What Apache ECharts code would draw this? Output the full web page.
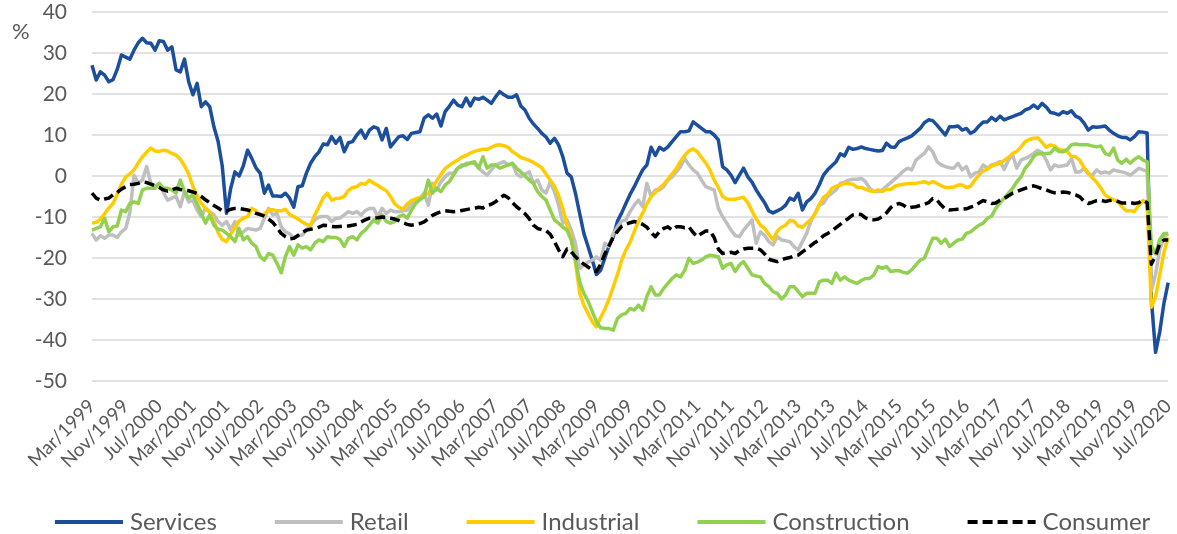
<!DOCTYPE html>
<html>
<head>
<meta charset="utf-8">
<script src="https://cdn.jsdelivr.net/npm/echarts@6/dist/echarts.min.js"></script>
<style>
  html, body { margin: 0; padding: 0; background: #fff; }
  #chart { width: 1177px; height: 534px; }
</style>
</head>
<body>
<div id="chart"></div>
<script>
// monthly categories, Mar/1999 .. Jul/2020
const monthNames = ['Jan','Feb','Mar','Apr','May','Jun','Jul','Aug','Sep','Oct','Nov','Dec']
const startYear = 1999
const startMonth = 2   // March
const monthCount = 257

const categories = []
for (let i = 0; i < monthCount; i++) {
  const m = (startMonth + i) % 12
  const y = startYear + Math.floor((startMonth + i) / 12)
  categories.push(monthNames[m] + '/' + y)
}

const seriesNames = ['Services', 'Retail', 'Industrial', 'Construction', 'Consumer']

const services = [
  27, 23.4, 25.4, 24.6, 23, 23.5, 26, 29.5, 29, 28.5,
  30.7, 32.5, 33.6, 32.5, 32.4, 30.7, 33, 32.8, 30.7, 31.5,
  25.9, 25.4, 28.5, 23, 19.8, 22.6, 16.9, 18.1, 16.9, 12,
  8.4, 2.3, -9.1, -3, 1, 0, 2.5, 6.3, 4.3, 2,
  0.7, -4.2, -2.2, -4.9, -4.9, -5, -4.2, -5.4, -7.6, -2.6,
  -2.4, 0.7, 3.1, 4.7, 5.9, 7.8, 7.6, 9.6, 8, 9.4,
  5.9, 8.1, 8.4, 10, 11.2, 9.2, 11.2, 12, 11.6, 8.8,
  11.6, 7.1, 8.4, 9.6, 9.8, 8.9, 10.4, 10.6, 10.8, 14.1,
  14.9, 14.1, 15.1, 12.2, 15.7, 17, 18.5, 17.3, 16.9, 19,
  17.1, 19, 18.7, 19.2, 18.5, 17.7, 19.3, 20.6, 19.8, 19.2,
  19.2, 19.8, 17.1, 16.1, 14.1, 12.7, 11.6, 10.4, 9.5, 8,
  9.2, 7.6, 4.7, 0.7, -0.2, -4.2, -9.1, -14, -17.2, -20.5,
  -24, -23, -20, -17, -14.8, -11, -9, -6.7, -4.5, -2.6,
  -0.5, 1.5, 2.7, 7, 5, 7, 6.3, 7.1, 8.4, 9.6,
  10.8, 10.8, 11, 13.2, 12.4, 11.6, 10.8, 10.8, 10, 8.8,
  2.3, 1.5, 0.2, -1.6, 0.2, 1.9, -0.2, -1.5, -3.4, -5,
  -6.5, -8.5, -9, -8.5, -8, -7.1, -5.4, -5.9, -4.2, -8.3,
  -6.3, -5.5, -4.2, -2.2, 0.2, 1.5, 2.5, 3.5, 5.4, 4.9,
  7, 6.5, 6.7, 7.1, 6.7, 6.5, 6.3, 6.1, 6.2, 8,
  7.1, 7, 8.4, 8.9, 9.3, 9.8, 10.7, 11.6, 13, 13.7,
  13.5, 12.4, 11.2, 10, 12, 12, 12.2, 11.2, 11.6, 10.4,
  11, 12.2, 13.2, 13.2, 14.3, 13.5, 14.6, 13.7, 14.1, 14.5,
  14.9, 15.3, 16.1, 16.5, 17.3, 16.5, 17.7, 16.8, 15.5, 15.3,
  14.9, 15.7, 15.3, 15.9, 14.6, 14.1, 12.9, 11.2, 12, 11.9,
  12, 12.2, 11.2, 10.4, 9.8, 9.4, 9.4, 8.8, 9.6, 10.8,
  10.7, 10.5, -30, -43, -38, -31, -26
]

const retail = [
  -14, -15.6, -14.6, -15.2, -14.4, -14.4, -15, -13.6, -12.8, -9,
  0.2, -1.8, -1, 2.3, -1.8, -2.6, -1.8, -4, -5.9, -5.4,
  -5, -7.5, -3.8, -6.3, -5.9, -8.3, -9.9, -7.9, -8.7, -9.5,
  -11.1, -12, -11.1, -13.2, -11.1, -14.4, -13.6, -12.8, -13, -13.2,
  -12.8, -10.3, -7.9, -9.5, -9.1, -12.4, -13.6, -14.1, -15.2, -14.6,
  -14.4, -13.2, -12, -10.7, -10, -9.9, -9.9, -11.1, -10.3, -10.3,
  -9.5, -8.7, -9.1, -8.7, -9.5, -8.5, -7.9, -7.9, -9.9, -7.9,
  -9.1, -8.3, -8.7, -8.7, -8.5, -8.3, -6.7, -5.8, -5.4, -4.2,
  -7.1, -1.8, -3.4, -1.4, -0.2, 0.7, 0.7, 1.9, 2.3, 3.1,
  3.1, 3.1, 1.9, 1, 0.2, 1.5, 2.7, 3.1, 3.5, 2.7,
  3.1, 0.5, -0.2, 0.5, 1, -1.8, -1, -3.4, -4.2, -1.4,
  -3.8, -7.1, -11.5, -10.7, -13.2, -16.4, -22.5, -21.7, -21, -20.5,
  -19.7, -20.5, -16.4, -17.2, -14, -12.4, -11, -10.7, -8.7, -7.1,
  -5.9, -7.5, -1.8, -5, -3.4, -3.4, -2.6, -1, -0.2, 1,
  2.3, 4.3, 2.7, 1.5, 0.7, -1, -2.6, -3, -3.4, -7.9,
  -9.9, -11.5, -13.2, -14.5, -14.8, -13.2, -12, -10.7, -16.4, -13.6,
  -14.5, -16, -16.8, -14.8, -15.6, -15.8, -16, -17.2, -18, -16,
  -14, -11.1, -9.1, -7.1, -6.7, -5, -4.2, -3.4, -1.8, -1.5,
  -1, -0.8, -0.8, -0.6, -1.4, -3, -3.8, -3.8, -3.4, -2.5,
  -1.6, -0.7, 0.2, 1.2, 1.9, 1.5, 3.9, 4.7, 5.5, 7.1,
  5.9, 3.5, 2.7, 2.3, 2, 1.9, 3.1, 1.5, 2.3, -0.2,
  0.7, 1, 2.7, 1.9, 2.7, 3, 3.5, 1.6, 3.9, 5.1,
  1.9, 3.9, 4.3, 4.8, 5.5, 6.3, 5.7, 3.9, 1.5, 2.7,
  2.3, 2.5, 2.7, 4.3, 1, 1, 1.9, 0.5, 0.2, 1.5,
  0.7, 1, 0.7, 1.5, 1.2, 1, 0.7, 0.2, 1, 1.9,
  1.5, 1.2, -28, -24, -18, -15, -14
]

const industrial = [
  -11.5, -11.3, -10.5, -9.2, -7.8, -6.7, -4.5, -2, -0.3, 0.5,
  1.5, 3.2, 4.7, 5.8, 6.8, 6.1, 6, 6.3, 6.1, 5.5,
  5.1, 4.1, 2.5, 0.5, -2.5, -4.8, -6.7, -7.9, -8.8, -11,
  -13.8, -15.5, -16, -14.2, -12.5, -11, -10.3, -9.9, -7.9, -8.5,
  -9.5, -9.3, -8.3, -8.2, -8.5, -8.5, -8.1, -9.4, -9.9, -10.5,
  -11.2, -11.8, -12, -9.5, -7.5, -5.3, -4.2, -5.9, -5.5, -5.4,
  -5, -3.5, -2.8, -2.6, -1.8, -2, -1, -1.8, -2.3, -3,
  -3.6, -5, -6.8, -7.6, -8.1, -6.8, -6, -5.6, -5.2, -4.8,
  -4.2, -2.8, -1.2, 0.4, 1.8, 2.6, 3.3, 3.9, 4.6, 5,
  5.6, 6, 6.3, 6.5, 6.5, 7, 7.5, 7.6, 7.4, 7,
  5.9, 5.3, 4.5, 4.2, 3.8, 3.3, 2.7, 2, 0.5, -1,
  -2.5, -4.8, -8, -12, -15, -21, -28.5, -31.5, -33.5, -35.5,
  -36.8, -34.5, -32.5, -30, -27, -24, -20.5, -18, -16.2, -13.5,
  -11, -9, -6.8, -5, -4, -3, -2, -0.8, 0.5, 1.8,
  3.6, 5, 6.1, 6.6, 5.9, 4.5, 3.2, 1.5, -1, -2.8,
  -5, -5.6, -5.7, -5.7, -5.4, -5.2, -6.5, -8.5, -10.5, -12,
  -12.8, -14.2, -15.6, -13.5, -12.5, -12, -10.8, -11, -12.2, -12.5,
  -11.5, -10.6, -9.2, -7, -5.2, -4.5, -3, -2.5, -2.2, -1.8,
  -1.9, -2, -2.8, -2.8, -3.2, -3.6, -3.8, -3.4, -3.8, -3.2,
  -3.3, -2.5, -2.2, -2, -1.9, -1.8, -1.8, -1.6, -1.4, -1.8,
  -1.4, -1.8, -2.4, -2.8, -2.8, -2.7, -2.2, -2.2, -2.8, -2.5,
  -1, 0.2, 1.3, 1.7, 2.5, 2.8, 3.1, 3.8, 4.5, 5.5,
  6, 7.1, 8.4, 8.9, 9.2, 9.3, 8.2, 7, 7.6, 7.3,
  6.5, 6.3, 5.9, 4.8, 4.7, 3.8, 2, 0.8, -0.5, -1.5,
  -3, -4.6, -5.3, -5.8, -6.2, -7.5, -8.5, -8.5, -8.6, -7.2,
  -6, -6.5, -32, -29.5, -24, -18.6, -15
]

const construction = [
  -13.2, -12.8, -12.4, -10.3, -13.6, -12.4, -12.2, -8.3, -8.7, -6.7,
  -6.3, -6.7, -3.4, -3, -3, -3, -1.8, -3, -3, -3.4,
  -4.2, -1, -3.8, -5.4, -4.6, -6.7, -9.1, -11.5, -9.5, -12,
  -13, -13.2, -14, -14.8, -16, -12.8, -15.6, -14.8, -16.4, -17.2,
  -19.7, -20.5, -18.9, -19.3, -21.3, -23.6, -19.7, -17.2, -19.3, -16.8,
  -17.6, -17.2, -18, -16.4, -15.6, -16, -14.8, -15, -15, -15.5,
  -17.2, -15.2, -14.8, -15.6, -14, -13.2, -12, -10.7, -11.5, -9.5,
  -11.1, -11.5, -11.1, -9.9, -9.5, -10.3, -8.3, -6.7, -5.8, -5,
  -1, -4.2, -3, -3.8, -2.2, -1.4, 0.2, 1.9, 2.7, 2.7,
  3.2, 3.5, 1.9, 4.7, 1.9, 2.7, 2.7, 1.9, 2.3, 2.7,
  3.1, 1.9, 1, 0, -1, -1.8, -3.8, -5, -5.9, -8.3,
  -10.7, -11.5, -12.5, -13.2, -15.6, -20.5, -25.8, -28.6, -30.5, -33,
  -35.5, -37, -37.2, -37.2, -37.6, -34.7, -33.9, -33.5, -32.3, -32.7,
  -31.5, -32.7, -29.4, -27, -29, -29, -27.4, -26.2, -25, -24.1,
  -24.6, -23, -20.1, -21.3, -21, -20.5, -19.7, -19.3, -19.5, -19.7,
  -22.5, -21.7, -21.3, -23.3, -21.7, -20.9, -22.5, -24.1, -24.4, -24.6,
  -26.2, -27, -28.2, -28.6, -30, -29, -27, -27, -28.2, -29.4,
  -28.6, -28.6, -28.6, -25.8, -25.4, -25.4, -26.2, -23.7, -25.4, -24.6,
  -25.4, -25.8, -26.2, -25.5, -25, -25, -24.1, -22.1, -22.5, -22.1,
  -23.3, -23.1, -23.1, -23.5, -23.7, -22.9, -21.7, -20.5, -20.1, -17.6,
  -15.2, -15.2, -16.4, -15.4, -17.2, -16.4, -15.6, -15.4, -14, -13.6,
  -12.8, -12, -11.5, -10.3, -9.8, -7.9, -6.5, -5.4, -4.2, -3,
  -1.4, -0.2, 1.9, 3.1, 4.7, 5.5, 5.4, 5.5, 5.6, 6.8,
  6, 5.9, 6.5, 7.6, 7.8, 7.6, 7.6, 7.6, 7.3, 7.1,
  7.3, 5.5, 5.1, 6.8, 3.9, 3.1, 4.1, 3.1, 4.1, 4.7,
  3.9, 3.5, -17, -19, -15.5, -14, -14
]

const consumer = [
  -4.2, -5.4, -5.9, -5.6, -5.4, -4.6, -4, -3.2, -2.6, -2.1,
  -2, -1.8, -1.5, -1.6, -2, -2.4, -2.8, -3.4, -3.7, -3.4,
  -3, -3.3, -3.5, -3.6, -3.9, -4.3, -5, -5.8, -6.5, -7.2,
  -7.8, -8.5, -8.6, -8.1, -7.9, -7.9, -8.1, -8.3, -8.6, -9.1,
  -9.4, -9.8, -10.5, -11.3, -12.6, -14, -14.8, -15.3, -15.2, -14.5,
  -13.8, -13.2, -13, -12.8, -12.5, -12, -12.1, -12.3, -12.4, -12.3,
  -12.2, -12.2, -12, -11.8, -11.2, -10.7, -10.3, -10.3, -10.2, -10,
  -10.1, -10.3, -10.5, -10.9, -11.4, -11.8, -12, -11.8, -11.6, -11.2,
  -10.4, -9.6, -9.1, -8.7, -8.5, -8.6, -8.7, -8.6, -8.4, -8.2,
  -8, -7.9, -7.6, -7.8, -7.2, -6.9, -6.3, -5.4, -4.7, -5.3,
  -6.5, -7.5, -8.3, -9.2, -10.4, -12, -12.8, -13.1, -13.3, -14.2,
  -16, -18, -19.7, -17.8, -18.5, -19.7, -20.7, -21.5, -22.2, -22.9,
  -23.3, -21.5, -19, -17, -14.9, -13.5, -12.3, -11.8, -11.4, -11.1,
  -11.3, -11.8, -12.5, -13.8, -14.8, -13.6, -12.8, -12.4, -13.2, -12.4,
  -12.4, -12.6, -12.4, -13.8, -14.8, -14, -13.4, -13.4, -15, -17.8,
  -18.9, -18.7, -18.6, -18.9, -18.2, -17.8, -17.6, -17.6, -17.6, -18,
  -19, -20.3, -20.6, -20.9, -20.5, -20.1, -19.9, -19.5, -19.3, -18.5,
  -17.8, -17, -16.2, -15.6, -14.6, -14, -13.4, -12.6, -11.8, -11,
  -10.3, -9.5, -9.3, -9.4, -10.2, -10.6, -10.7, -10.5, -9.9, -9,
  -7.7, -7, -6.7, -7.1, -7.8, -7.6, -7.5, -7.2, -6.9, -6.5,
  -5.5, -5.9, -7.1, -8.1, -8.3, -8.2, -8.1, -8.1, -8, -7.6,
  -7.3, -6.6, -6, -6.3, -6.7, -6.6, -5.9, -5.5, -4.8, -4.2,
  -3.8, -3.4, -3, -2.6, -2.4, -2.7, -3.1, -3.4, -3.8, -4.1,
  -4.1, -3.9, -4, -4.3, -4.6, -5.1, -6.2, -6.7, -6.4, -6,
  -5.9, -6.2, -6, -5.9, -6.2, -6.6, -6.6, -6.5, -6.7, -6.5,
  -5.9, -6.5, -21.5, -19.5, -16.5, -15.6, -15.6
]

const yTicks = { min: -50, max: 40, step: 10 }

const colors = ['#1b4f9c', '#bfbfbf', '#ffcc00', '#92d050', '#000000']
const font = 'Lato, "Open Sans", sans-serif'
const textColor = '#595959'

// legend icons: plain line for solid series, dashes for Consumer
const solidIcon = 'rect'
const dashIcon = 'path://M0,0h10v4h-10z M15,0h10v4h-10z M30,0h10v4h-10z M45,0h10v4h-10z M60,0h8v4h-8z'

const chart = echarts.init(document.getElementById('chart'))

const values = [services, retail, industrial, construction, consumer]
const series = seriesNames.map((name, idx) => ({
  name: name,
  type: 'line',
  data: values[idx],
  symbol: 'none',
  smooth: false,
  lineStyle: {
    color: colors[idx],
    width: 3.5,
    join: 'round',
    type: name === 'Consumer' ? [10, 5] : 'solid'
  },
  itemStyle: { color: colors[idx] }
}))

const option = {
  backgroundColor: '#fff',
  animation: false,
  color: colors,
  title: {
    text: '%',
    left: 7,
    top: 16,
    textStyle: { fontFamily: font, fontSize: 22, fontWeight: 'normal', color: textColor }
  },
  legend: {
    top: 505,
    left: 50,
    itemWidth: 68,
    itemHeight: 4,
    itemGap: 58,
    data: seriesNames.map(name => ({
      name: name,
      icon: name === 'Consumer' ? dashIcon : solidIcon
    })),
    textStyle: { fontFamily: font, fontSize: 24, color: textColor, padding: [0, 0, 0, 2] }
  },
  grid: {
    left: 92,
    right: 3,
    top: 12,
    bottom: 153
  },
  xAxis: {
    type: 'category',
    data: categories,
    boundaryGap: false,
    axisLine: { show: false },
    axisTick: { show: false },
    splitLine: { show: false },
    axisLabel: {
      interval: 7,
      rotate: 45,
      margin: 22,
      fontFamily: font,
      fontSize: 19,
      color: textColor
    }
  },
  yAxis: {
    type: 'value',
    min: yTicks.min,
    max: yTicks.max,
    interval: yTicks.step,
    axisLine: { show: false },
    axisTick: { show: false },
    axisLabel: { fontFamily: font, fontSize: 21, color: textColor, margin: 25 },
    splitLine: { lineStyle: { color: '#d9d9d9', width: 1.5 } }
  },
  series: series
}

chart.setOption(option)
</script>
</body>
</html>
